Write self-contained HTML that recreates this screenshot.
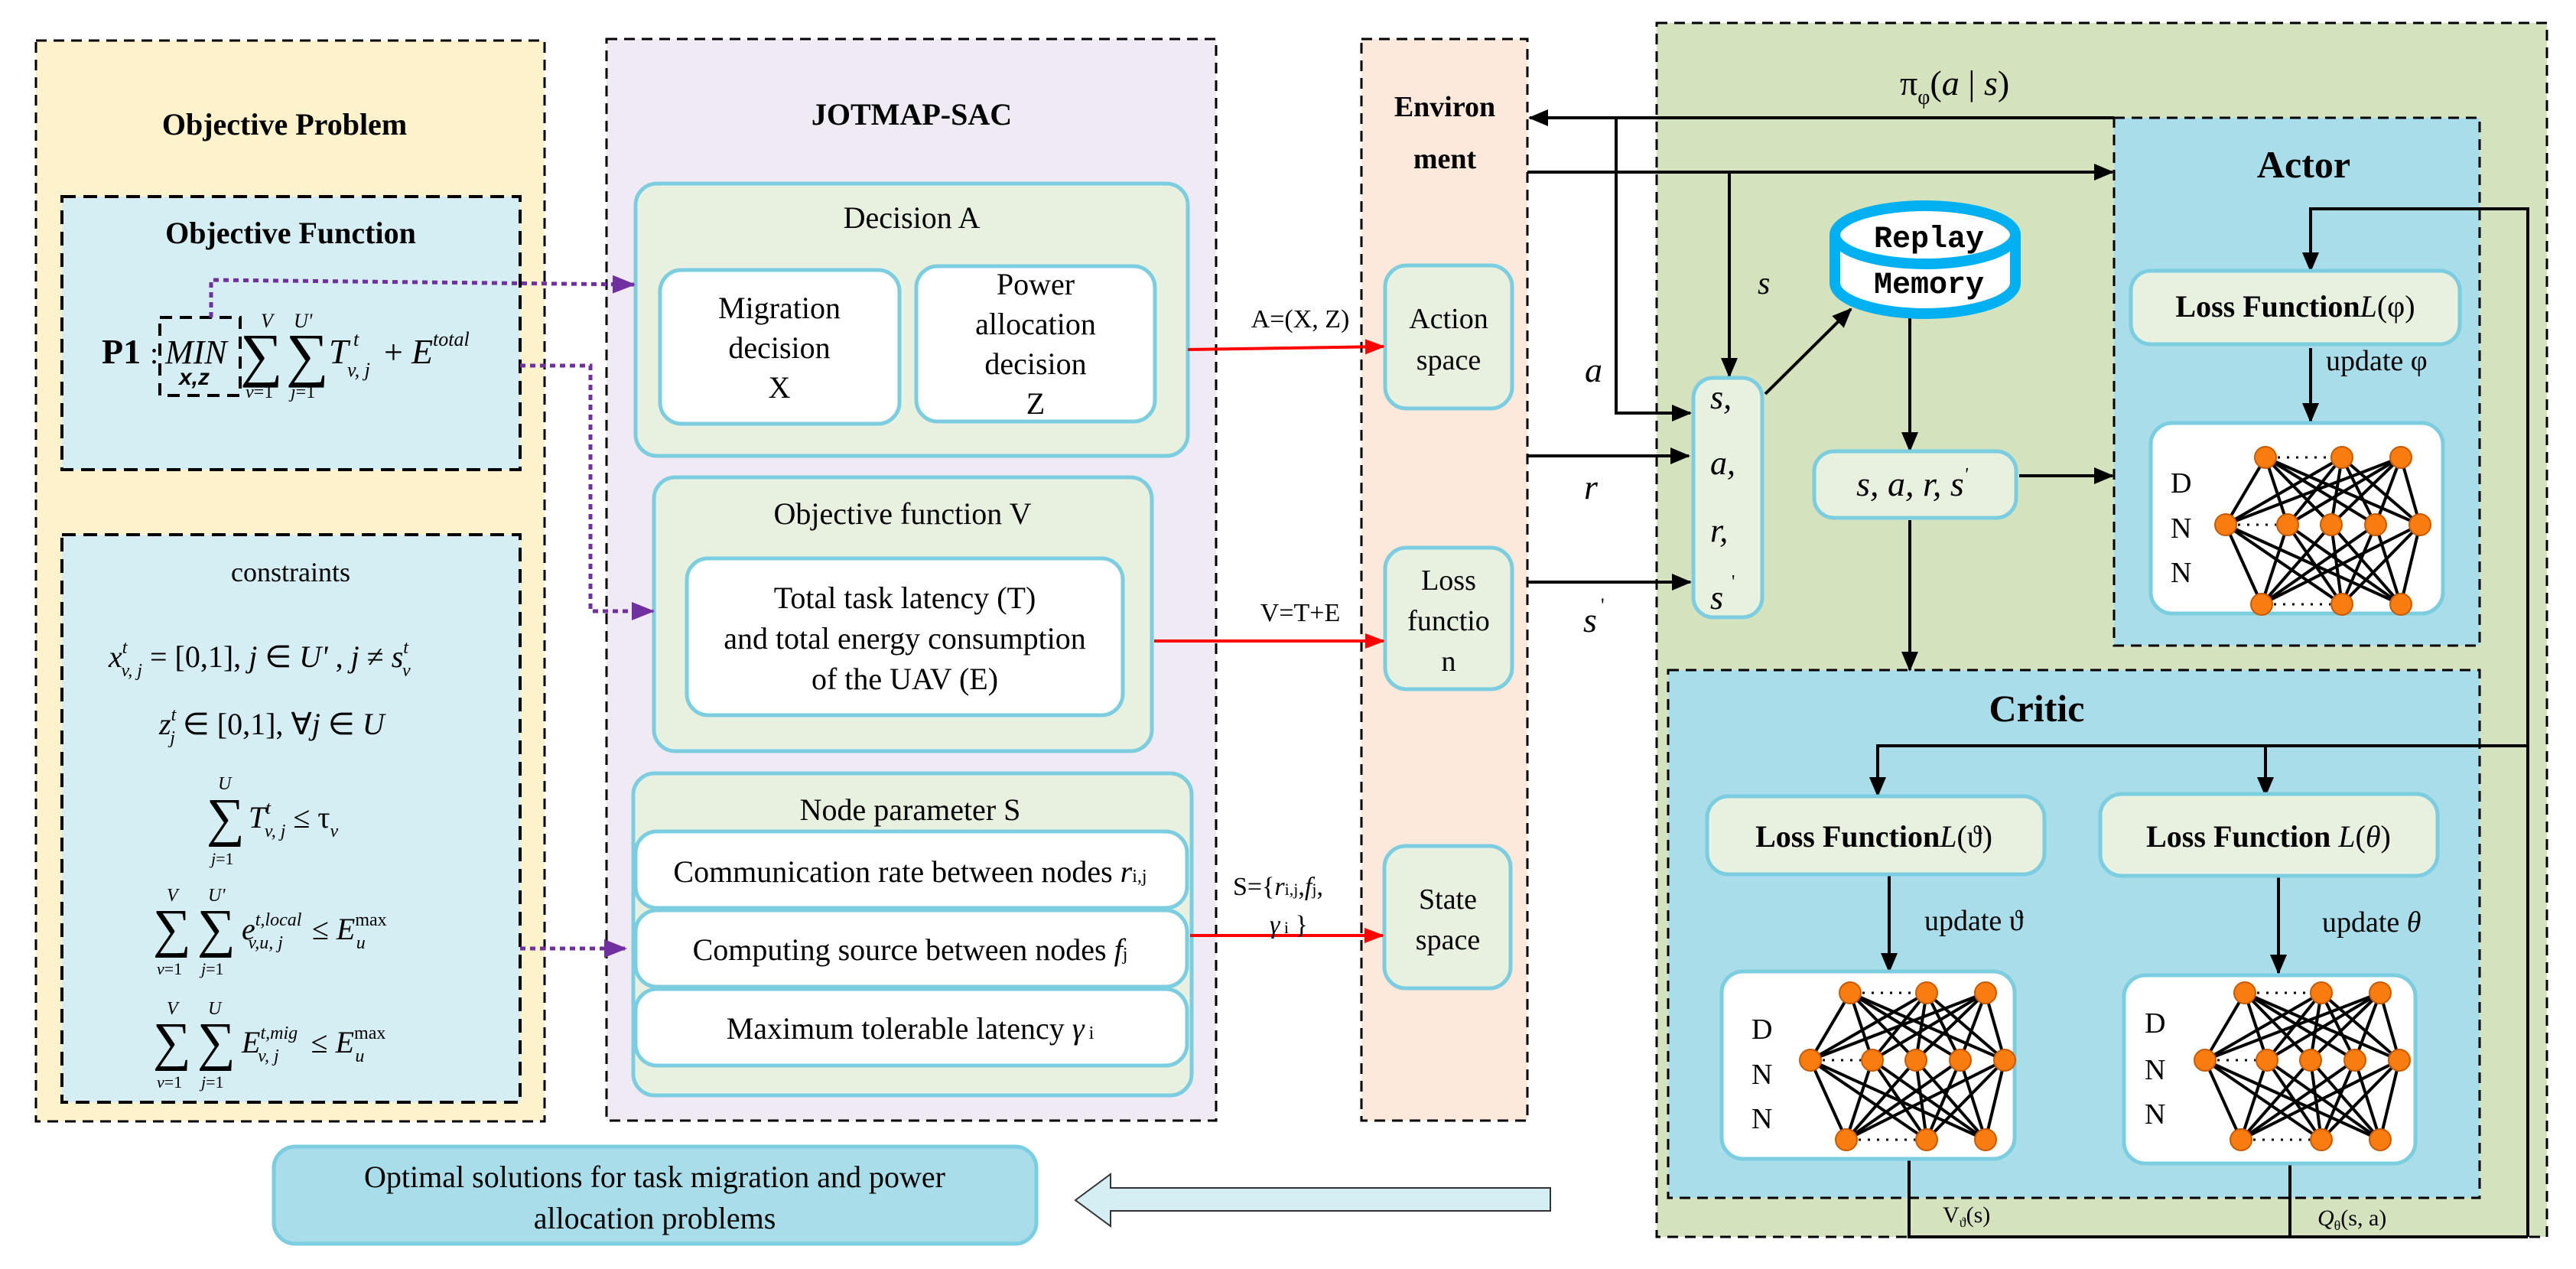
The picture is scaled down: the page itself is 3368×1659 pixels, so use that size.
<!DOCTYPE html>
<html><head><meta charset="utf-8"><style>
html,body{margin:0;padding:0;background:#fff}
svg{display:block}
text{font-family:"Liberation Serif",serif;fill:#000}
.b{font-weight:bold}
.i{font-style:italic}
</style></head><body>
<svg width="3368" height="1659" viewBox="0 0 3368 1659" xmlns="http://www.w3.org/2000/svg">
<defs>
<marker id="ak" markerUnits="userSpaceOnUse" markerWidth="26" markerHeight="22" refX="24" refY="11" orient="auto"><path d="M0,0 L26,11 L0,22 Z" fill="#000"/></marker>
<marker id="ar" markerUnits="userSpaceOnUse" markerWidth="26" markerHeight="20" refX="24" refY="10" orient="auto"><path d="M0,0 L26,10 L0,20 Z" fill="#f00"/></marker>
<marker id="ap" markerUnits="userSpaceOnUse" markerWidth="30" markerHeight="24" refX="28" refY="12" orient="auto"><path d="M0,0 L30,12 L0,24 Z" fill="#7030a0"/></marker>
<g id="net" stroke="#000" stroke-width="4">
<g>
<line x1="52" y1="-88" x2="0" y2="0"/><line x1="52" y1="-88" x2="81" y2="0"/><line x1="52" y1="-88" x2="138" y2="0"/><line x1="52" y1="-88" x2="196" y2="0"/><line x1="52" y1="-88" x2="254" y2="0"/>
<line x1="152" y1="-88" x2="0" y2="0"/><line x1="152" y1="-88" x2="81" y2="0"/><line x1="152" y1="-88" x2="138" y2="0"/><line x1="152" y1="-88" x2="196" y2="0"/><line x1="152" y1="-88" x2="254" y2="0"/>
<line x1="229" y1="-88" x2="0" y2="0"/><line x1="229" y1="-88" x2="81" y2="0"/><line x1="229" y1="-88" x2="138" y2="0"/><line x1="229" y1="-88" x2="196" y2="0"/><line x1="229" y1="-88" x2="254" y2="0"/>
<line x1="47" y1="104" x2="0" y2="0"/><line x1="47" y1="104" x2="81" y2="0"/><line x1="47" y1="104" x2="138" y2="0"/><line x1="47" y1="104" x2="196" y2="0"/><line x1="47" y1="104" x2="254" y2="0"/>
<line x1="152" y1="104" x2="0" y2="0"/><line x1="152" y1="104" x2="81" y2="0"/><line x1="152" y1="104" x2="138" y2="0"/><line x1="152" y1="104" x2="196" y2="0"/><line x1="152" y1="104" x2="254" y2="0"/>
<line x1="229" y1="104" x2="0" y2="0"/><line x1="229" y1="104" x2="81" y2="0"/><line x1="229" y1="104" x2="138" y2="0"/><line x1="229" y1="104" x2="196" y2="0"/><line x1="229" y1="104" x2="254" y2="0"/>
</g>
<g stroke-dasharray="3,9" stroke-width="3">
<line x1="68" y1="-88" x2="138" y2="-88"/><line x1="16" y1="0" x2="66" y2="0"/><line x1="63" y1="104" x2="138" y2="104"/>
</g>
<g fill="#f87c10" stroke="#c55a00" stroke-width="2">
<circle cx="52" cy="-88" r="14"/><circle cx="152" cy="-88" r="14"/><circle cx="229" cy="-88" r="14"/>
<circle cx="0" cy="0" r="14"/><circle cx="81" cy="0" r="14"/><circle cx="138" cy="0" r="14"/><circle cx="196" cy="0" r="14"/><circle cx="254" cy="0" r="14"/>
<circle cx="47" cy="104" r="14"/><circle cx="152" cy="104" r="14"/><circle cx="229" cy="104" r="14"/>
</g>
</g>
</defs>

<!-- Objective Problem -->
<rect x="47" y="53" width="665" height="1413" fill="#fef2cc" stroke="#000" stroke-width="3" stroke-dasharray="14,9"/>
<text x="372" y="176" font-size="40" class="b" text-anchor="middle">Objective Problem</text>
<rect x="81" y="257" width="599" height="357" fill="#d5eef3" stroke="#000" stroke-width="4" stroke-dasharray="18,10"/>
<text x="380" y="318" font-size="40" class="b" text-anchor="middle">Objective Function</text>
<text x="133" y="475" font-size="46" class="b">P1</text>
<text x="196" y="475" font-size="40">:</text>
<rect x="209" y="415" width="105" height="102" fill="none" stroke="#000" stroke-width="4" stroke-dasharray="16,10"/>
<text x="216" y="475" font-size="44" class="i">MIN</text>
<text x="234" y="503" font-size="30" font-family="Liberation Sans" style="font-family:'Liberation Sans',sans-serif" class="b i">x,z</text>
<text x="314" y="490" font-size="78">∑</text>
<text x="374" y="490" font-size="78">∑</text>
<text x="341" y="428" font-size="26" class="i">V</text>
<text x="384" y="428" font-size="26" class="i">U'</text>
<text x="321" y="520" font-size="24"><tspan class="i">v</tspan>=1</text>
<text x="380" y="520" font-size="24"><tspan class="i">j</tspan>=1</text>
<text x="430" y="475" font-size="46" class="i">T</text>
<text x="462" y="452" font-size="26" class="i">t</text>
<text x="454" y="492" font-size="26" class="i">v, j</text>
<text x="502" y="475" font-size="44">+</text>
<text x="538" y="475" font-size="46" class="i">E</text>
<text x="566" y="452" font-size="26" class="i">total</text>

<rect x="81" y="699" width="599" height="742" fill="#d5eef3" stroke="#000" stroke-width="4" stroke-dasharray="18,10"/>
<text x="380" y="760" font-size="36" text-anchor="middle">constraints</text>
<text x="142" y="872" font-size="40"><tspan class="i">x</tspan><tspan font-size="24" dy="-18" class="i">t</tspan><tspan font-size="24" dx="-8" dy="30" class="i">v, j</tspan><tspan dy="-12"> = [0,1], </tspan><tspan class="i">j</tspan> ∈ <tspan class="i">U' </tspan>, <tspan class="i">j</tspan> ≠ <tspan class="i">s</tspan><tspan font-size="24" dy="-18" class="i">t</tspan><tspan font-size="24" dx="-8" dy="30" class="i">v</tspan></text>
<text x="208" y="960" font-size="40"><tspan class="i">z</tspan><tspan font-size="24" dy="-18" class="i">t</tspan><tspan font-size="24" dx="-8" dy="30" class="i">j</tspan><tspan dy="-12"> ∈ [0,1], ∀</tspan><tspan class="i">j</tspan> ∈ <tspan class="i">U</tspan></text>
<text x="270" y="1092" font-size="70">∑</text>
<text x="285" y="1032" font-size="24" class="i">U</text>
<text x="276" y="1130" font-size="22"><tspan class="i">j</tspan>=1</text>
<text x="325" y="1082" font-size="40"><tspan class="i">T</tspan><tspan font-size="24" dy="-18" class="i">t</tspan><tspan font-size="24" dx="-8" dy="30" class="i">v, j</tspan><tspan dy="-12"> ≤ τ</tspan><tspan font-size="24" dy="12" class="i">v</tspan></text>
<text x="200" y="1237" font-size="70">∑</text>
<text x="258" y="1237" font-size="70">∑</text>
<text x="218" y="1178" font-size="24" class="i">V</text>
<text x="272" y="1178" font-size="24" class="i">U'</text>
<text x="205" y="1274" font-size="22"><tspan class="i">v</tspan>=1</text>
<text x="263" y="1274" font-size="22"><tspan class="i">j</tspan>=1</text>
<text x="316" y="1228" font-size="40"><tspan class="i">e</tspan><tspan font-size="24" dy="-18" class="i">t,local</tspan><tspan font-size="24" dx="-70" dy="30" class="i">v,u, j</tspan><tspan dy="-12" dx="28"> ≤ </tspan><tspan class="i">E</tspan><tspan font-size="24" dy="-18">max</tspan><tspan font-size="24" dx="-40" dy="30" class="i">u</tspan></text>
<text x="200" y="1385" font-size="70">∑</text>
<text x="258" y="1385" font-size="70">∑</text>
<text x="218" y="1326" font-size="24" class="i">V</text>
<text x="272" y="1326" font-size="24" class="i">U</text>
<text x="205" y="1422" font-size="22"><tspan class="i">v</tspan>=1</text>
<text x="263" y="1422" font-size="22"><tspan class="i">j</tspan>=1</text>
<text x="316" y="1376" font-size="40"><tspan class="i">E</tspan><tspan font-size="24" dy="-18" class="i">t,mig</tspan><tspan font-size="24" dx="-52" dy="30" class="i">v, j</tspan><tspan dy="-12" dx="32"> ≤ </tspan><tspan class="i">E</tspan><tspan font-size="24" dy="-18">max</tspan><tspan font-size="24" dx="-40" dy="30" class="i">u</tspan></text>

<!-- JOTMAP-SAC -->
<rect x="793" y="51" width="797" height="1414" fill="#efeaf3" stroke="#000" stroke-width="3" stroke-dasharray="14,9"/>
<text x="1192" y="163" font-size="40" class="b" text-anchor="middle">JOTMAP-SAC</text>
<rect x="831" y="240" width="722" height="356" rx="28" fill="#e8f1df" stroke="#7ccde0" stroke-width="5"/>
<text x="1192" y="298" font-size="40" text-anchor="middle">Decision A</text>
<rect x="863" y="353" width="313" height="201" rx="28" fill="#fff" stroke="#7ccde0" stroke-width="5"/>
<text x="1019" y="416" font-size="40" text-anchor="middle">Migration</text>
<text x="1019" y="468" font-size="40" text-anchor="middle">decision</text>
<text x="1019" y="520" font-size="40" text-anchor="middle">X</text>
<rect x="1198" y="348" width="312" height="203" rx="28" fill="#fff" stroke="#7ccde0" stroke-width="5"/>
<text x="1354" y="385" font-size="40" text-anchor="middle">Power</text>
<text x="1354" y="437" font-size="40" text-anchor="middle">allocation</text>
<text x="1354" y="489" font-size="40" text-anchor="middle">decision</text>
<text x="1354" y="541" font-size="40" text-anchor="middle">Z</text>

<rect x="855" y="624" width="651" height="358" rx="28" fill="#e8f1df" stroke="#7ccde0" stroke-width="5"/>
<text x="1180" y="685" font-size="40" text-anchor="middle">Objective function V</text>
<rect x="898" y="730" width="570" height="205" rx="28" fill="#fff" stroke="#7ccde0" stroke-width="5"/>
<text x="1183" y="795" font-size="40" text-anchor="middle">Total task latency (T)</text>
<text x="1183" y="848" font-size="40" text-anchor="middle">and total energy consumption</text>
<text x="1183" y="901" font-size="40" text-anchor="middle">of the UAV (E)</text>

<rect x="828" y="1011" width="730" height="421" rx="28" fill="#e8f1df" stroke="#7ccde0" stroke-width="5"/>
<text x="1190" y="1072" font-size="40" text-anchor="middle">Node parameter S</text>
<rect x="831" y="1087" width="721" height="100" rx="28" fill="#fff" stroke="#7ccde0" stroke-width="5"/>
<text x="1190" y="1153" font-size="40" text-anchor="middle">Communication rate between nodes <tspan class="i">r</tspan><tspan font-size="24">i,j</tspan></text>
<rect x="831" y="1190" width="721" height="100" rx="28" fill="#fff" stroke="#7ccde0" stroke-width="5"/>
<text x="1190" y="1255" font-size="40" text-anchor="middle">Computing source between nodes <tspan class="i">f</tspan><tspan font-size="24">j</tspan></text>
<rect x="831" y="1293" width="721" height="100" rx="28" fill="#fff" stroke="#7ccde0" stroke-width="5"/>
<text x="1190" y="1358" font-size="40" text-anchor="middle">Maximum tolerable latency <tspan class="i">γ</tspan><tspan font-size="24"> i</tspan></text>

<!-- purple dotted arrows -->
<g stroke="#7030a0" stroke-width="5" stroke-dasharray="7,6" fill="none">
<polyline points="276,415 276,366 829,372" marker-end="url(#ap)"/>
<polyline points="680,478 772,478 772,799 854,799" marker-end="url(#ap)"/>
<polyline points="680,1240 818,1240" marker-end="url(#ap)"/>
</g>

<!-- Environment -->
<rect x="1780" y="51" width="217" height="1414" fill="#fde9dc" stroke="#000" stroke-width="3" stroke-dasharray="14,9"/>
<text x="1889" y="152" font-size="38" class="b" text-anchor="middle">Environ</text>
<text x="1889" y="220" font-size="38" class="b" text-anchor="middle">ment</text>
<rect x="1811" y="347" width="166" height="187" rx="28" fill="#e8f1df" stroke="#7ccde0" stroke-width="5"/>
<text x="1894" y="429" font-size="38" text-anchor="middle">Action</text>
<text x="1894" y="483" font-size="38" text-anchor="middle">space</text>
<rect x="1811" y="716" width="166" height="185" rx="28" fill="#e8f1df" stroke="#7ccde0" stroke-width="5"/>
<text x="1894" y="771" font-size="38" text-anchor="middle">Loss</text>
<text x="1894" y="824" font-size="38" text-anchor="middle">functio</text>
<text x="1894" y="877" font-size="38" text-anchor="middle">n</text>
<rect x="1810" y="1106" width="165" height="186" rx="28" fill="#e8f1df" stroke="#7ccde0" stroke-width="5"/>
<text x="1893" y="1188" font-size="38" text-anchor="middle">State</text>
<text x="1893" y="1241" font-size="38" text-anchor="middle">space</text>

<!-- red arrows -->
<g stroke="#f00" stroke-width="4" fill="none">
<line x1="1553" y1="457" x2="1809" y2="453" marker-end="url(#ar)"/>
<line x1="1509" y1="838" x2="1809" y2="838" marker-end="url(#ar)"/>
<line x1="1556" y1="1223" x2="1808" y2="1223" marker-end="url(#ar)"/>
</g>
<text x="1700" y="428" font-size="34" text-anchor="middle">A=(X, Z)</text>
<text x="1700" y="812" font-size="34" text-anchor="middle">V=T+E</text>
<text x="1612" y="1170" font-size="34">S={<tspan class="i">r</tspan><tspan font-size="22">i,j</tspan>,<tspan class="i">f</tspan><tspan font-size="22">j</tspan>,</text>
<text x="1660" y="1220" font-size="34"><tspan class="i">γ</tspan><tspan font-size="22"> i</tspan> }</text>

<!-- SAC area -->
<rect x="2166" y="30" width="1164" height="1587" fill="#d5e2be" stroke="#000" stroke-width="3" stroke-dasharray="14,9"/>
<rect x="2764" y="154" width="478" height="690" fill="#a8dde9" stroke="#000" stroke-width="3" stroke-dasharray="14,9"/>
<rect x="2181" y="876" width="1061" height="690" fill="#a8dde9" stroke="#000" stroke-width="3" stroke-dasharray="14,9"/>
<text x="2484" y="124" font-size="46">π<tspan font-size="28" dy="12">φ</tspan><tspan dy="-12">(</tspan><tspan class="i">a</tspan> | <tspan class="i">s</tspan>)</text>
<text x="3012" y="232" font-size="50" class="b" text-anchor="middle">Actor</text>
<text x="2663" y="943" font-size="50" class="b" text-anchor="middle">Critic</text>

<g stroke="#000" stroke-width="4" fill="none">
<line x1="2764" y1="154" x2="2000" y2="154" marker-end="url(#ak)"/>
<polyline points="2113,154 2113,540 2210,540" marker-end="url(#ak)"/>
<line x1="1997" y1="225" x2="2762" y2="225" marker-end="url(#ak)"/>
<line x1="2261" y1="225" x2="2261" y2="492" marker-end="url(#ak)"/>
<line x1="1997" y1="596" x2="2208" y2="596" marker-end="url(#ak)"/>
<line x1="1997" y1="761" x2="2210" y2="761" marker-end="url(#ak)"/>
<line x1="2308" y1="515" x2="2420" y2="404" marker-end="url(#ak)"/>
<line x1="2497" y1="413" x2="2497" y2="589" marker-end="url(#ak)"/>
<line x1="2640" y1="622" x2="2762" y2="622" marker-end="url(#ak)"/>
<line x1="2497" y1="680" x2="2497" y2="876" marker-end="url(#ak)"/>
<polyline points="3305,1617 3305,273 3021,273 3021,354" marker-end="url(#ak)"/>
<line x1="3021" y1="455" x2="3021" y2="551" marker-end="url(#ak)"/>
<polyline points="3305,975 2455,975 2455,1040" marker-end="url(#ak)"/>
<line x1="2962" y1="975" x2="2962" y2="1040" marker-end="url(#ak)"/>
<line x1="2470" y1="1143" x2="2470" y2="1270" marker-end="url(#ak)"/>
<line x1="2979" y1="1145" x2="2979" y2="1272" marker-end="url(#ak)"/>
<polyline points="2496,1515 2496,1617 3305,1617"/>
<line x1="2994" y1="1521" x2="2994" y2="1617"/>
</g>
<text x="2298" y="384" font-size="42" class="i">s</text>
<text x="2072" y="499" font-size="46" class="i">a</text>
<text x="2071" y="652" font-size="46" class="i">r</text>
<text x="2070" y="826" font-size="46" class="i">s</text><text x="2093" y="800" font-size="26">'</text>

<rect x="2214" y="494" width="90" height="313" rx="26" fill="#e8f1df" stroke="#7ccde0" stroke-width="5"/>
<text x="2236" y="534" font-size="44" class="i">s,</text>
<text x="2236" y="620" font-size="44" class="i">a,</text>
<text x="2236" y="708" font-size="44" class="i">r,</text>
<text x="2236" y="796" font-size="44" class="i">s</text><text x="2264" y="768" font-size="24">'</text>

<!-- cylinder -->
<path d="M2399,307 L2399,370 A118,40 0 0 0 2635,370 L2635,307" fill="#fff" stroke="#00b0f0" stroke-width="14"/>
<ellipse cx="2517" cy="307" rx="118" ry="38" fill="#fff" stroke="#00b0f0" stroke-width="14"/>
<text x="2522" y="323" font-size="40" class="b" text-anchor="middle" style="font-family:'Liberation Mono',monospace">Replay</text>
<text x="2522" y="383" font-size="40" class="b" text-anchor="middle" style="font-family:'Liberation Mono',monospace">Memory</text>

<rect x="2372" y="590" width="264" height="87" rx="26" fill="#e8f1df" stroke="#7ccde0" stroke-width="5"/>
<text x="2500" y="648" font-size="46" class="i" text-anchor="middle">s, a, r, s<tspan font-size="24" dy="-20">'</tspan></text>

<rect x="2786" y="354" width="430" height="96" rx="26" fill="#e8f1df" stroke="#7ccde0" stroke-width="5"/>
<text x="3001" y="414" font-size="40" text-anchor="middle"><tspan class="b">Loss Function</tspan><tspan class="i">L</tspan>(φ)</text>
<text x="3041" y="484" font-size="38">update φ</text>
<rect x="2812" y="553" width="382" height="249" rx="28" fill="#fff" stroke="#7ccde0" stroke-width="5"/>
<text x="2838" y="644" font-size="38">D</text><text x="2838" y="703" font-size="38">N</text><text x="2838" y="761" font-size="38">N</text>
<use href="#net" x="2910" y="686"/>

<rect x="2232" y="1041" width="441" height="102" rx="28" fill="#e8f1df" stroke="#7ccde0" stroke-width="5"/>
<text x="2450" y="1107" font-size="40" text-anchor="middle"><tspan class="b">Loss Function</tspan><tspan class="i">L</tspan>(ϑ)</text>
<rect x="2746" y="1038" width="441" height="107" rx="28" fill="#e8f1df" stroke="#7ccde0" stroke-width="5"/>
<text x="2966" y="1107" font-size="40" text-anchor="middle"><tspan class="b">Loss Function </tspan><tspan class="i">L</tspan>(<tspan class="i">θ</tspan>)</text>
<text x="2516" y="1216" font-size="38">update  ϑ</text>
<text x="3036" y="1218" font-size="38">update <tspan class="i">θ</tspan></text>

<rect x="2251" y="1270" width="383" height="245" rx="28" fill="#fff" stroke="#7ccde0" stroke-width="5"/>
<text x="2290" y="1358" font-size="38">D</text><text x="2290" y="1417" font-size="38">N</text><text x="2290" y="1475" font-size="38">N</text>
<use href="#net" x="2367" y="1386"/>
<rect x="2777" y="1275" width="381" height="246" rx="28" fill="#fff" stroke="#7ccde0" stroke-width="5"/>
<text x="2804" y="1350" font-size="38">D</text><text x="2804" y="1411" font-size="38">N</text><text x="2804" y="1469" font-size="38">N</text>
<use href="#net" x="2883" y="1386"/>

<text x="2540" y="1598" font-size="30">V<tspan font-size="18" dy="6">ϑ</tspan><tspan dy="-6">(s)</tspan></text>
<text x="3030" y="1602" font-size="30"><tspan class="i">Q</tspan><tspan font-size="18" dy="6">θ</tspan><tspan dy="-6">(s, a)</tspan></text>

<!-- bottom -->
<rect x="358" y="1499" width="997" height="127" rx="28" fill="#a8dde9" stroke="#7ccde0" stroke-width="5"/>
<text x="856" y="1552" font-size="40" text-anchor="middle">Optimal solutions for task migration and power</text>
<text x="856" y="1606" font-size="40" text-anchor="middle">allocation problems</text>
<polygon points="1406,1569 1452,1535 1452,1553 2027,1553 2027,1583 1452,1583 1452,1603" fill="#d5eef3" stroke="#333" stroke-width="2"/>
</svg>
</body></html>
